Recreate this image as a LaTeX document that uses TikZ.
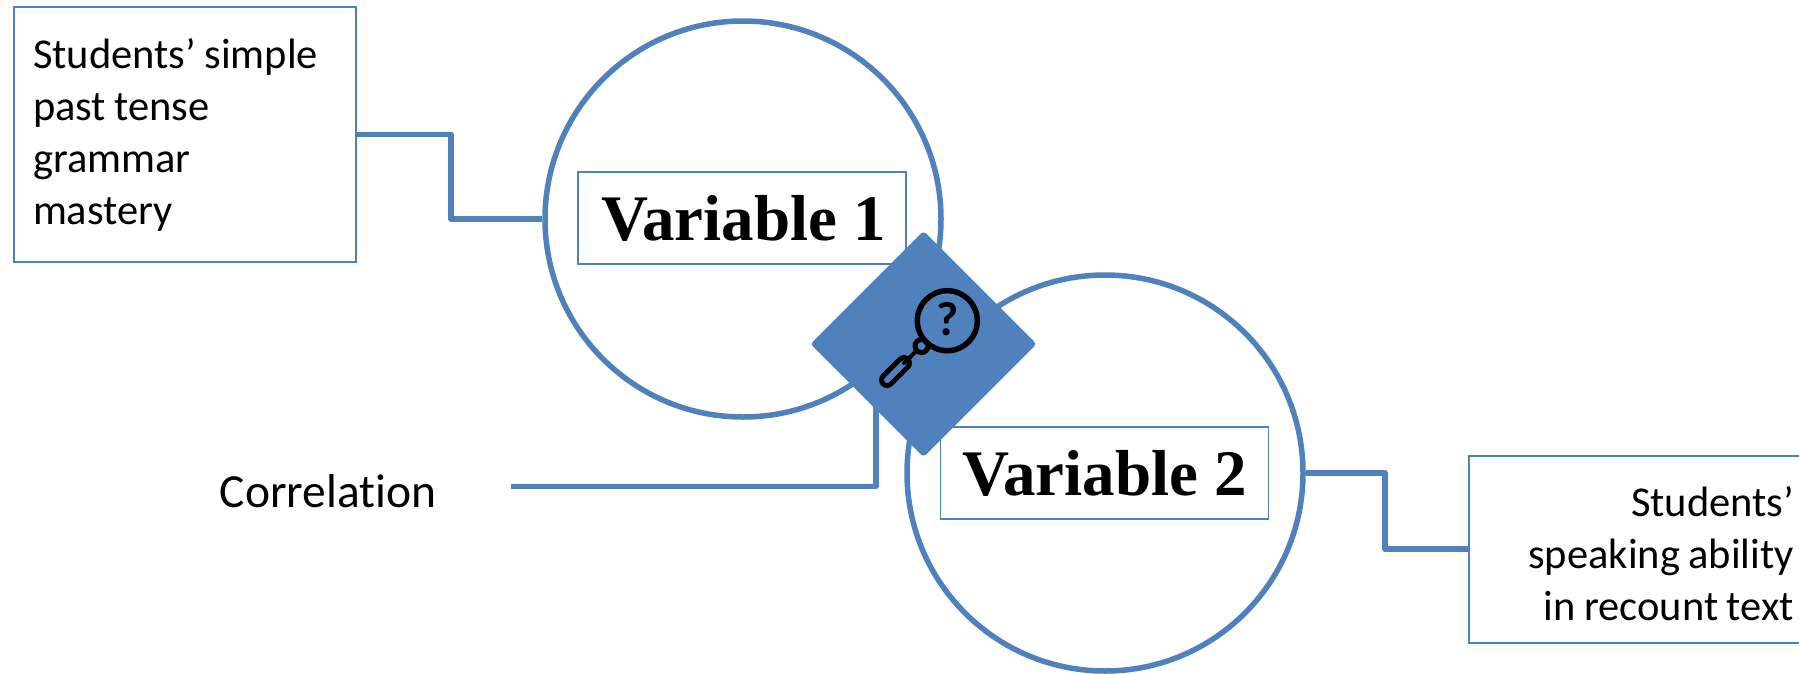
\documentclass[tikz,border=0pt]{standalone}
\usepackage{fontspec}
\setmainfont{Carlito}[Ligatures=NoCommon]
\newfontfamily\varfont{Liberation Serif}[Scale=1.0]
\usetikzlibrary{shapes.geometric}
\definecolor{linkblue}{HTML}{4F81BD}
\newlength{\tightgap}
\newcommand{\tightwords}{\setlength{\tightgap}{.2em}\spaceskip=\tightgap\relax}
\tikzset{
  infobox/.style={draw=linkblue,line width=2pt,fill=white,rectangle,inner sep=0pt,font=\fontsize{42.5}{52}\selectfont},
  varbox/.style={draw=linkblue,line width=1.5pt,fill=white,rectangle,inner sep=0pt,minimum width=328pt,minimum height=92pt,font=\varfont\bfseries\fontsize{65}{70}\selectfont},
  ring/.style={draw=linkblue,line width=5.5pt,circle,fill=white,inner sep=0pt,minimum size=396pt},
  link/.style={draw=linkblue,line width=5.5pt,line join=round},
  glass/.style={draw=black,line width=5.5pt,line cap=round}
}
\begin{document}
\begin{tikzpicture}[x=1pt,y=-1pt]
\useasboundingbox (0,0) rectangle (1799,673);
\clip (0,0) rectangle (1799,673);
\node[ring] (c1) at (743,219) {};
\node[ring] (c2) at (1105,473) {};
\node[varbox] (v1) at (742,218) {\hspace{3pt}Variable 1};
\node[varbox] (v2) at (1104.5,473) {Variable 2};
\node[infobox,minimum width=342pt,minimum height=255pt,text width=304pt,align=left] (b1) at (185,134.5) {\tightwords Students’ simple\\past tense\\grammar\\mastery};
\node[infobox,minimum width=345pt,minimum height=187pt,text width=306pt,align=right] (b2) at (1641,549) {\tightwords\rule{0pt}{40pt}Students’\\speaking ability\\in recount text};
\node[font=\fontsize{47.5}{50}\selectfont,anchor=base,inner sep=0pt] (corr) at (328,507) {Correlation};
\coordinate (e1) at (451,219);
\coordinate (e2) at (1385,473);
\coordinate (cs) at (510.5,486.5);
\coordinate (ce) at (876,400);
\draw[link] (b1.east) -| (e1) -- (c1.west);
\draw[link] (c2.east) -- (e2) |- (b2.west);
\draw[link] (cs) -| (ce);
\node[diamond,aspect=1,fill=linkblue,draw=linkblue,line width=1pt,rounded corners=3pt,inner sep=0pt,minimum size=225pt] (d) at (923.5,344) {};
\node[circle,draw=black,line width=5.5pt,inner sep=0pt,minimum size=60pt] (lens) at (947.3,320.7) {};
\node[circle,draw=black,line width=5pt,inner sep=0pt,minimum size=13pt] (neck) at (921.5,346) {};
\coordinate (h1) at (887,380);
\coordinate (h2) at (904,363);
\draw[draw=black,line width=16pt,line cap=round] (h1) -- (h2);
\draw[draw=linkblue,line width=6pt,line cap=round] (h1) -- (h2);
\draw[glass,line width=4pt] (neck) -- (h2);
\node[font=\bfseries\fontsize{48}{50}\selectfont,inner sep=0pt] (q) at (947.3,319) {?};
\end{tikzpicture}
\end{document}
